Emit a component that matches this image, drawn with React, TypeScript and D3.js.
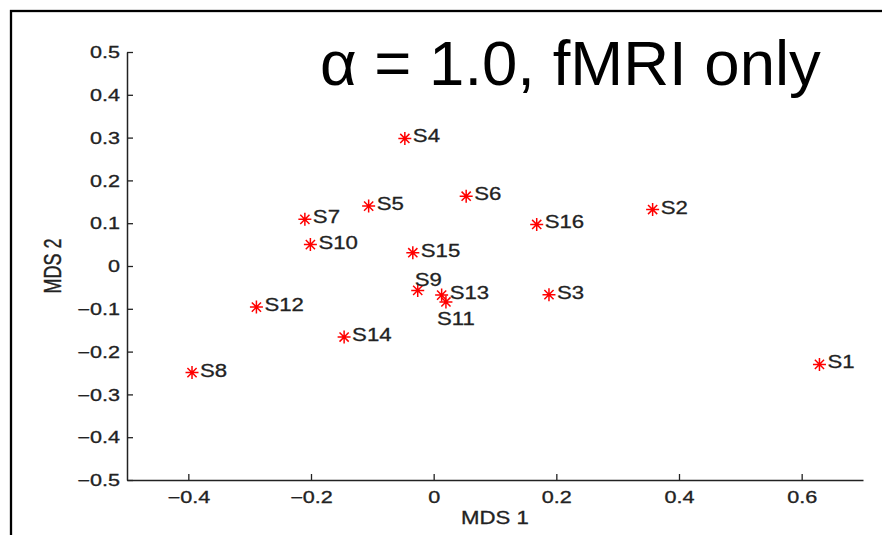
import React, { useEffect, useRef } from 'react';
import * as d3 from 'd3';

// MDS coordinates per subject
const subjects = ['S1', 'S2', 'S3', 'S4', 'S5', 'S6', 'S7', 'S8', 'S9', 'S10', 'S11', 'S12', 'S13', 'S14', 'S15', 'S16'];
const mds1 = [0.629, 0.357, 0.188, -0.047, -0.106, 0.053, -0.210, -0.394, -0.026, -0.201, 0.020, -0.289, 0.013, -0.146, -0.034, 0.168];
const mds2 = [-0.230, 0.132, -0.067, 0.298, 0.140, 0.163, 0.109, -0.249, -0.057, 0.050, -0.084, -0.096, -0.068, -0.166, 0.031, 0.097];

const xTicks = [-0.4, -0.2, 0, 0.2, 0.4, 0.6];
const yTicks = [-0.5, -0.4, -0.3, -0.2, -0.1, 0, 0.1, 0.2, 0.3, 0.4, 0.5];

const titleText = 'α = 1.0, fMRI only';

// labels that are not put just to the right of their marker
const labelShift: Record<string, [number, number]> = {
  S9: [-3, -4],
  S11: [-9, 23],
};

const W = 882;
const H = 535;
const plot = { left: 127, right: 863, top: 52, bottom: 480 };
const font = '"Liberation Sans", Arial, Helvetica, sans-serif';
const ink = '#222';
const stretch = 1.35; // the MATLAB part of the figure is widened

const fmt = (d: number) => (Math.abs(d) < 1e-9 ? '0' : d3.format('.1f')(d));

export default function App() {
  const ref = useRef<SVGSVGElement>(null);

  useEffect(() => {
    const svg = d3.select(ref.current);
    svg.selectAll('*').remove();

    const x = d3.scaleLinear().domain([-0.5, 0.7]).range([plot.left, plot.right]);
    const y = d3.scaleLinear().domain([-0.5, 0.5]).range([plot.bottom, plot.top]);

    // outer frame
    svg.append('rect')
      .attr('x', 11).attr('y', 11)
      .attr('width', 950).attr('height', 650)
      .attr('fill', 'none').attr('stroke', '#000').attr('stroke-width', 2.3);

    const xAxis = svg.append('g')
      .attr('transform', `translate(0,${plot.bottom})`)
      .call(d3.axisBottom(x).tickValues(xTicks).tickSizeInner(-6).tickSizeOuter(0).tickFormat(fmt as any));

    const yAxis = svg.append('g')
      .attr('transform', `translate(${plot.left},0)`)
      .call(d3.axisLeft(y).tickValues(yTicks).tickSizeInner(-6).tickSizeOuter(0).tickFormat(fmt as any));

    [xAxis, yAxis].forEach(g => {
      g.attr('font-family', null).attr('font-size', null);
      g.select('.domain').attr('stroke', ink).attr('stroke-width', 1.5);
      g.selectAll('.tick line').attr('stroke', ink).attr('stroke-width', 1.3);
      g.selectAll('.tick text')
        .attr('fill', ink)
        .attr('stroke', ink).attr('stroke-width', 0.3)
        .style('font-family', font)
        .style('font-size', '16px')
        .attr('x', null).attr('y', null).attr('dy', null);
    });
    xAxis.selectAll('.tick text')
      .attr('text-anchor', 'middle')
      .attr('transform', `translate(0,23) scale(${stretch},1)`);
    yAxis.selectAll('.tick text')
      .attr('text-anchor', 'end')
      .attr('transform', `translate(-7,5.6) scale(${stretch},1)`);

    // axis titles
    svg.append('text')
      .attr('transform', `translate(${(plot.left + plot.right) / 2},524) scale(1.2,1)`)
      .attr('text-anchor', 'middle')
      .style('font-family', font).style('font-size', '18.5px')
      .attr('fill', ink).attr('stroke', ink).attr('stroke-width', 0.3)
      .text('MDS 1');

    svg.append('text')
      .attr('transform', `translate(60.5,${(plot.top + plot.bottom) / 2}) scale(1.3,1) rotate(-90)`)
      .attr('text-anchor', 'middle')
      .style('font-family', font).style('font-size', '18px')
      .attr('fill', ink).attr('stroke', ink).attr('stroke-width', 0.3)
      .text('MDS 2');

    const points = subjects.map((name, i) => ({ name, px: x(mds1[i]), py: y(mds2[i]) }));

    // red asterisk markers (plus and cross)
    const r = 6.5;
    const q = r * Math.SQRT1_2;
    const star = `M${-r},0H${r}M0,${-r}V${r}M${-q},${-q}L${q},${q}M${-q},${q}L${q},${-q}`;
    svg.append('g').selectAll('path')
      .data(points)
      .enter().append('path')
      .attr('transform', d => `translate(${d.px},${d.py})`)
      .attr('d', star)
      .attr('fill', 'none')
      .attr('stroke', '#ff0000')
      .attr('stroke-width', 1.5);

    svg.append('g').selectAll('text')
      .data(points)
      .enter().append('text')
      .attr('transform', d => {
        const [dx, dy] = labelShift[d.name] || [8, 4];
        return `translate(${d.px + dx},${d.py + dy}) scale(1.2,1)`;
      })
      .style('font-family', font).style('font-size', '18.5px')
      .attr('fill', ink).attr('stroke', ink).attr('stroke-width', 0.3)
      .text(d => d.name);

    svg.append('text')
      .attr('x', 320).attr('y', 85)
      .style('font-family', font).style('font-size', '63.5px')
      .attr('fill', '#000')
      .text(titleText);
  }, []);

  return (
    <svg
      ref={ref}
      width={W}
      height={H}
      style={{ position: 'absolute', left: 0, top: 0, display: 'block', background: '#fff' }}
    />
  );
}
